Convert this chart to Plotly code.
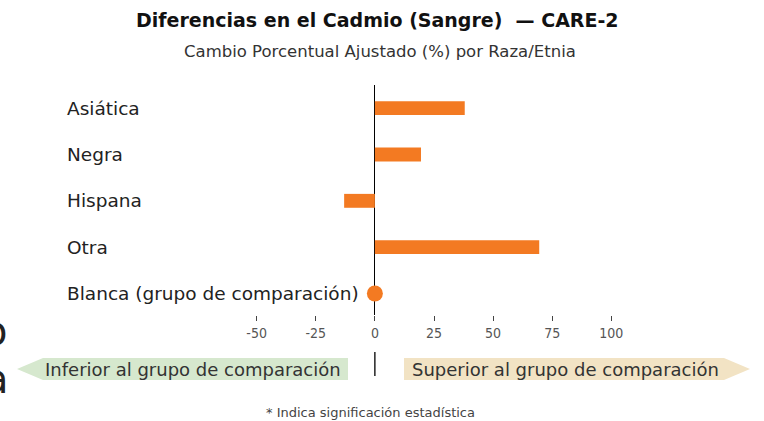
import plotly.graph_objects as go

# data
categories = ["Asiática", "Negra", "Hispana", "Otra", "Blanca (grupo de comparación)"]
bar_groups = ["Asiática", "Negra", "Hispana", "Otra"]
pct_change = [38, 19.5, -13, 69.5]
ref_group = "Blanca (grupo de comparación)"
ref_value = 0
tick_vals = [-50, -25, 0, 25, 50, 75, 100]

orange = "#F37A22"
W, H = 764, 421
L, R, T, B = 233, 129, 85, 106
pw, ph = W - L - R, H - T - B


def fx(px):
    return (px - L) / pw


def fy(py):
    return (H - B - py) / ph


fig = go.Figure()
fig.add_trace(go.Bar(
    x=pct_change, y=bar_groups, orientation="h",
    marker=dict(color=orange, line=dict(width=0)), width=0.3, hoverinfo="skip",
))
fig.add_trace(go.Scatter(
    x=[ref_value], y=[ref_group], mode="markers", hoverinfo="skip",
    marker=dict(color=orange, size=16), cliponaxis=False,
))

shapes = [
    # zero line continued below the ticks
    dict(type="line", xref="x", yref="paper", x0=0, x1=0, y0=fy(352), y1=fy(376),
         line=dict(color="black", width=1.3)),
    # left arrow
    dict(type="path", xref="paper", yref="paper", fillcolor="#D6E8CE", line=dict(width=0),
         path=f"M {fx(17)} {fy(369)} L {fx(43)} {fy(358)} L {fx(348)} {fy(358)} "
              f"L {fx(348)} {fy(380)} L {fx(43)} {fy(380)} Z"),
    # right arrow
    dict(type="path", xref="paper", yref="paper", fillcolor="#F2E3C4", line=dict(width=0),
         path=f"M {fx(404)} {fy(358)} L {fx(724)} {fy(358)} L {fx(750)} {fy(369)} "
              f"L {fx(724)} {fy(380)} L {fx(404)} {fy(380)} Z"),
]

txt = dict(xref="paper", yref="paper", showarrow=False, xanchor="center", yanchor="middle")
annotations = []
for c in categories:
    annotations.append(dict(x=fx(65), y=c, xref="paper", yref="y", text=c, showarrow=False,
                            xanchor="left", font=dict(size=18.5, color="#222", family="DejaVu Sans")))
annotations += [
    dict(x=fx(377), y=fy(20), text="<b>Diferencias en el Cadmio (Sangre)  — CARE-2</b>",
         font=dict(size=19, color="#111", family="DejaVu Sans"), **txt),
    dict(x=fx(380), y=fy(52), text="Cambio Porcentual Ajustado (%) por Raza/Etnia",
         font=dict(size=16.5, color="#333", family="DejaVu Sans"), **txt),
    dict(x=fx(193), y=fy(369), text="Inferior al grupo de comparación",
         font=dict(size=18, color="#333", family="DejaVu Sans"), **txt),
    dict(x=fx(565), y=fy(369), text="Superior al grupo de comparación",
         font=dict(size=18, color="#333", family="DejaVu Sans"), **txt),
    dict(x=fx(370), y=fy(412), text="* Indica significación estadística",
         font=dict(size=13, color="#444", family="DejaVu Sans"), **txt),
    dict(x=fx(9), y=fy(331), xref="paper", yref="paper", showarrow=False, xanchor="right",
         yanchor="middle", text="o", font=dict(size=40, color="#222", family="DejaVu Sans")),
    dict(x=fx(11), y=fy(379), xref="paper", yref="paper", showarrow=False, xanchor="right",
         yanchor="middle", text="a", font=dict(size=40, color="#222", family="DejaVu Sans")),
]

fig.update_layout(
    width=W, height=H, margin=dict(l=L, r=R, t=T, b=B, autoexpand=False),
    plot_bgcolor="white", paper_bgcolor="white", showlegend=False,
    shapes=shapes, annotations=annotations,
    xaxis=dict(range=[-60, 110], tickvals=tick_vals, ticktext=[str(v) for v in tick_vals],
               ticks="outside", ticklen=5,
               tickcolor="#444", showgrid=False, showline=False,
               zeroline=True, zerolinecolor="black", zerolinewidth=1.3,
               tickfont=dict(size=14, color="#555", family="DejaVu Sans Condensed")),
    yaxis=dict(categoryorder="array", categoryarray=categories, autorange="reversed",
               range=[4.5, -0.5], showticklabels=False, showgrid=False, zeroline=False),
)

fig.write_html("out.html", config={"displayModeBar": False},
               post_script="document.body.style.margin='0px';")
